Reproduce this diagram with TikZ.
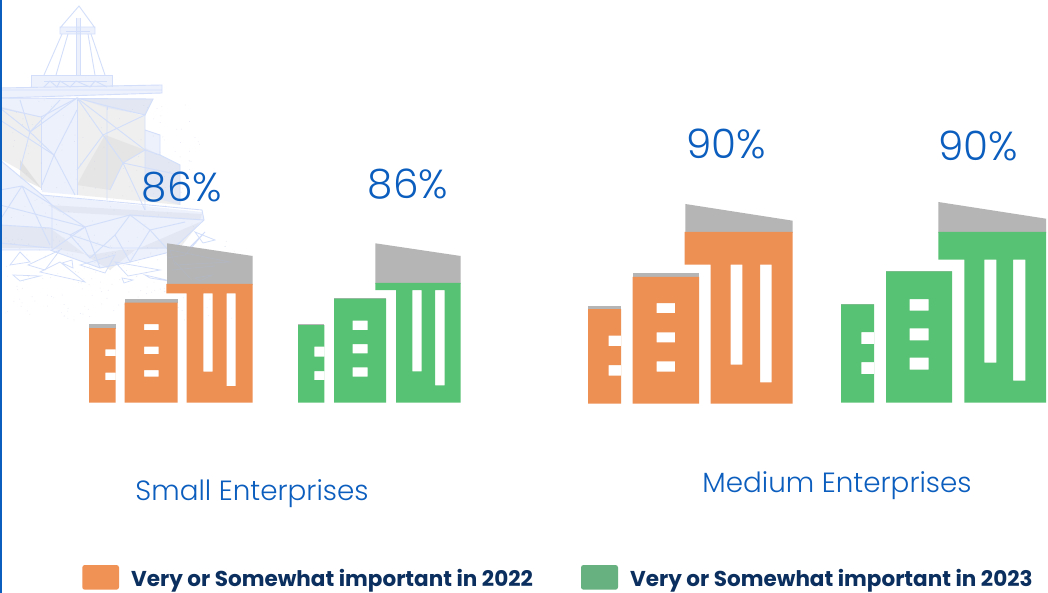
\documentclass[tikz,border=0pt]{standalone}
\usepackage{fontspec}
\setmainfont{Poppins}
\newfontfamily\lightfont[UprightFont={* Light}]{Poppins}
\definecolor{txtblue}{HTML}{0B5DBE}
\definecolor{navy}{HTML}{0B2F5E}
\definecolor{bo}{HTML}{ED9054}
\definecolor{bg}{HTML}{58C274}
\definecolor{roofgray}{HTML}{B5B5B5}
\definecolor{lego}{HTML}{F09155}
\definecolor{legg}{HTML}{67B07F}
\definecolor{shipl}{HTML}{D2DEFA}
\tikzset{
 orangeblock/.style={fill=bo,even odd rule},
 greenblock/.style={fill=bg,even odd rule},
 roof/.style={fill=roofgray},
 pct/.style={text=txtblue,font=\lightfont\fontsize{40.5}{46}\selectfont,inner sep=0pt},
 groupname/.style={text=txtblue,font=\lightfont\fontsize{27.8}{32}\selectfont,inner sep=0pt},
 legendtext/.style={text=navy,font=\bfseries\fontsize{21.5}{25}\selectfont,anchor=west,inner sep=0pt},
 swatch/.style={rounded corners=2.5pt},
 facet/.style={fill=black!11,fill opacity=.55},
 pane/.style={fill=shipl,fill opacity=.42},
 wire/.style={draw=shipl,line width=.9pt},
 shard/.style={draw=shipl,line width=.75pt},
 wireover/.style={draw=shipl!60!gray,line width=.6pt,opacity=.6},
}
\begin{document}
\begin{tikzpicture}[x=1pt,y=-1pt]
\useasboundingbox (0,0) rectangle (1048,593);
\fill[white] (0,0) rectangle (1048,593);
% ---- ship line art
\begin{scope}
\clip (0,0) rectangle (260,320);
% gray facets
\fill[facet] (2,107) -- (41,117) -- (41,188) -- (20,170) -- (2,160) -- cycle;
\fill[facet] (77,98) -- (145,116) -- (145,148) -- (180,165) -- (180,205) -- (77,195) -- cycle;
\fill[facet] (77,98) -- (153,99) -- (145,115) -- (107,106) -- cycle;
\fill[facet] (2,225) -- (50,228) -- (90,258) -- (110,270) -- (135,250) -- (200,222) -- (180,248) -- (120,250) -- (90,255) -- (50,248) -- (2,248) -- cycle;
\fill[facet] (48,205) -- (202,214) -- (200,220) -- (60,212) -- cycle;
\fill[black!25,fill opacity=.2] (105,135) -- (145,150) -- (123,163) -- (110,190) -- (77,185) -- (85,170) -- cycle;
\fill[black!25,fill opacity=.3] (20,160) -- (41,188) -- (20,178) -- cycle;
% pale blue panes
\fill[pane] (0,98) -- (153,99) -- (145,115) -- (107,108) -- (77,98) -- (41,117) -- (0,108) -- cycle;
\fill[pane] (41,117) -- (77,98) -- (77,195) -- (42,192) -- cycle;
\fill[pane] (0,160) -- (42,195) -- (202,212) -- (204,220) -- (170,252) -- (100,268) -- (50,250) -- (0,250) -- cycle;
\fill[pane] (145,130) -- (160,135) -- (160,155) -- (180,165) -- (180,205) -- (145,195) -- cycle;
\fill[pane] (0,88) -- (162,85) -- (162,93) -- (0,98) -- cycle;
\fill[pane] (31,75) rectangle (112,87);
\fill[pane] (60,27) rectangle (95,34);
\fill[pane] (76,18) rectangle (80,75);
% wires: mast and deck
\draw[wire] (60,28) -- (79,6) -- (95,28) (60,27) rectangle (95,34);
\draw[wire] (76,18) -- (76,75) (80,18) -- (80,75) (66,31) -- (90,31);
\draw[wire] (62,34) -- (44,75) (68,34) -- (56,75) (88,34) -- (95,75) (91,34) -- (105,75);
\draw[wire] (31,75) -- (112,75) -- (112,87) (31,75) -- (31,87);
\draw[wire] (44,87) -- (50,81) -- (57,87) -- (60,81) -- (70,87) -- (76,81) -- (90,87) -- (95,81) -- (107,87);
\draw[wire] (44,81) -- (107,81);
\draw[wire] (0,88) -- (162,85) -- (162,93) -- (0,98) (0,90) -- (162,90);
% wires: upper body
\draw[wire] (0,98) -- (153,99) -- (145,115) -- (107,106) -- (77,98) -- (41,117) -- (0,108);
\draw[wire] (77,98) -- (77,195) (107,106) -- (107,110) (41,117) -- (41,190);
\draw[wire] (145,115) -- (145,210) (145,130) -- (160,135) -- (160,155) -- (180,165) -- (180,205);
\draw[wire] (160,155) -- (145,150) (107,108) -- (107,200);
\draw[wire] (77,98) -- (145,150) -- (123,163) -- (110,190) (77,98) -- (103,135) -- (145,115);
\draw[wire] (103,135) -- (123,163) (103,135) -- (77,170) (123,163) -- (180,175) (123,163) -- (145,210);
\draw[wire] (30,132) -- (77,98) (30,132) -- (54,155) -- (77,110) (30,132) -- (0,108) (30,132) -- (20,170);
\draw[wire] (54,155) -- (42,185) (54,155) -- (75,195) (54,155) -- (0,120) (20,100) -- (30,132) -- (60,100);
% wires: hull
\draw[wire] (0,160) -- (42,195) -- (202,210) -- (204,220) -- (170,252) -- (130,262) -- (100,268) -- (50,250) -- (0,250);
\draw[wire] (0,190) -- (22,186) -- (52,205) -- (52,250) (22,186) -- (0,220) (22,186) -- (50,245);
\draw[wire] (42,195) -- (52,205) -- (85,227) -- (130,215) -- (204,220) (85,227) -- (52,250);
\draw[wire] (85,227) -- (100,268) (85,227) -- (70,235) -- (90,258) -- (115,235) -- (130,262) -- (150,230) -- (170,252) (115,235) -- (90,258);
\draw[wire] (130,215) -- (115,235) (130,215) -- (150,230) -- (185,222);
\draw[wire] (0,225) -- (50,228) -- (110,248) -- (170,248) (0,205) -- (85,227) (0,243) -- (50,248);
% loose shards
\draw[shard] (10,265) -- (20,252) -- (30,262) -- cycle (28,265) -- (60,250) -- (45,270) -- cycle;
\draw[shard] (40,272) -- (60,262) -- (85,282) -- cycle (62,263) -- (72,260) -- (73,268) -- cycle;
\draw[shard] (80,265) -- (115,255) -- (105,273) -- cycle (115,262) -- (160,270) -- (128,276) -- cycle;
\draw[shard] (13,275) -- (40,276) -- (20,281) -- cycle (122,278) -- (133,280) -- (124,283) -- cycle;
\draw[shard] (145,275) -- (175,282) -- (150,278) -- cycle (195,232) -- (215,240) -- (203,243) -- cycle;
\draw[shard] (185,255) -- (205,232) -- (190,247) (170,250) -- (230,262) -- (175,265) -- cycle;
% specks
\pgfmathsetseed{4711}
\foreach \i in {1,...,230}{
  \pgfmathsetmacro{\sx}{rnd*235+5}
  \pgfmathsetmacro{\sy}{rnd*85+235}
  \fill[shipl!80!gray,opacity=.4] (\sx,\sy) circle (.45pt);
}
\foreach \i in {1,...,120}{
  \pgfmathsetmacro{\sx}{rnd*190+10}
  \pgfmathsetmacro{\sy}{rnd*130+100}
  \fill[shipl!80!gray,opacity=.5] (\sx,\sy) circle (.4pt);
}
\end{scope}
% left rule
\fill[txtblue] (0,0) rectangle (2,593);
% ---- small 2022
\fill[roof] (89,324.3) rectangle (115.7,329);
\fill[roof] (124.7,298.7) rectangle (177.7,303);
\fill[roof] (167,243.3) -- (252.7,256) -- (252.7,285) -- (167,285) -- cycle;
\fill[orangeblock] (89,328) rectangle (115.7,402.7) (105.3,349.3) rectangle (115.7,356) (105.3,372.7) rectangle (115.7,380);
\fill[orangeblock] (124.7,302.7) rectangle (177.7,402.7) (144,324) rectangle (158.7,330) (144,346.7) rectangle (158.7,354) (144,370) rectangle (158.7,376.7);
\fill[orangeblock] (166.3,284) -- (252.7,284) -- (252.7,402.7) -- (186.7,402.7) -- (186.7,293.3) -- (166.3,293.3) -- cycle (203.3,293.3) rectangle (212.7,371.7) (226.7,293.3) rectangle (235.7,386);
% ship wires showing through the gray roof
\begin{scope}
\clip (167,243.3) -- (252.7,256) -- (252.7,284) -- (167,284) -- cycle;
\draw[wireover] (170,250) -- (230,262) -- (175,265) -- cycle (167,258) -- (185,255) -- (205,232);
\draw[wireover] (172,270) -- (215,266) (195,278) -- (212,275) -- (200,281) -- cycle (175,262) -- (190,278);
\end{scope}
% ---- small 2023
\fill[roof] (298,324.3) rectangle (324.3,327);
\fill[roof] (334,298) rectangle (386,300);
\fill[roof] (375.3,243.3) -- (460.7,256) -- (460.7,284) -- (375.3,284) -- cycle;
\fill[greenblock] (298,325) rectangle (324.3,402.7) (314.3,346.7) rectangle (324.3,356.7) (314.3,371) rectangle (324.3,380);
\fill[greenblock] (334,298.7) rectangle (386,402.7) (352.7,320.7) rectangle (367.7,330) (352.7,344) rectangle (367.7,353.3) (352.7,367.3) rectangle (367.7,376.7);
\fill[greenblock] (375.3,283) -- (460.7,283) -- (460.7,402.7) -- (396,402.7) -- (396,290) -- (375.3,290) -- cycle (412.3,290) rectangle (421.7,371.3) (435,290) rectangle (444.7,385.3);
% ---- medium 2022
\fill[roof] (588,306.3) rectangle (621,310);
\fill[roof] (632.7,273.3) rectangle (699,278);
\fill[roof] (685.3,204) -- (792.7,220.7) -- (792.7,233) -- (685.3,233) -- cycle;
\fill[orangeblock] (588,309) rectangle (621,403.7) (608.7,335.7) rectangle (621,346) (608.7,365) rectangle (621,375.7);
\fill[orangeblock] (632.7,277) rectangle (699,403.7) (656.7,303) rectangle (675,313) (656.7,332.3) rectangle (675,342.3) (656.7,361.3) rectangle (675,371.7);
\fill[orangeblock] (684.7,232) -- (792.7,232) -- (792.7,403.7) -- (710.7,403.7) -- (710.7,264.7) -- (684.7,264.7) -- cycle (730.7,264.7) rectangle (742.3,364.7) (760,264.7) rectangle (771.7,382.3);
% ---- medium 2023
\fill[roof] (841,304) rectangle (874,306);
\fill[roof] (886,271) rectangle (952,273);
\fill[roof] (938.3,202) -- (1046,218.7) -- (1046,233) -- (938.3,233) -- cycle;
\fill[greenblock] (841,304.3) rectangle (874,402.7) (861.3,332) rectangle (874,344) (861.3,362) rectangle (874,374);
\fill[greenblock] (886,271.3) rectangle (952,402.7) (909.7,299) rectangle (928.7,310.7) (909.7,328.3) rectangle (928.7,340.3) (909.7,357.7) rectangle (928.7,369.7);
\fill[greenblock] (938.3,232) -- (1046,232) -- (1046,402.7) -- (964.3,402.7) -- (964.3,259.7) -- (938.3,259.7) -- cycle (984.3,259.7) rectangle (996.3,362.7) (1013,259.7) rectangle (1025.3,380.7);
% ---- labels
\node[pct] (p1) at (182,187) {86\%};
\node[pct] (p2) at (408,184) {86\%};
\node[pct] (p3) at (726,144) {90\%};
\node[pct] (p4) at (978,146) {90\%};
\node[groupname] (g1) at (252,494) {Small Enterprises};
\node[groupname] (g2) at (837,486) {Medium Enterprises};
% ---- legend
\fill[swatch,lego] (82.3,565) rectangle (119,589.7);
\node[legendtext] (l1) at (131,581) {Very or Somewhat important in 2022};
\fill[swatch,legg] (581,565) rectangle (618,589.7);
\node[legendtext] (l2) at (630,581) {Very or Somewhat important in 2023};
\end{tikzpicture}
\end{document}
